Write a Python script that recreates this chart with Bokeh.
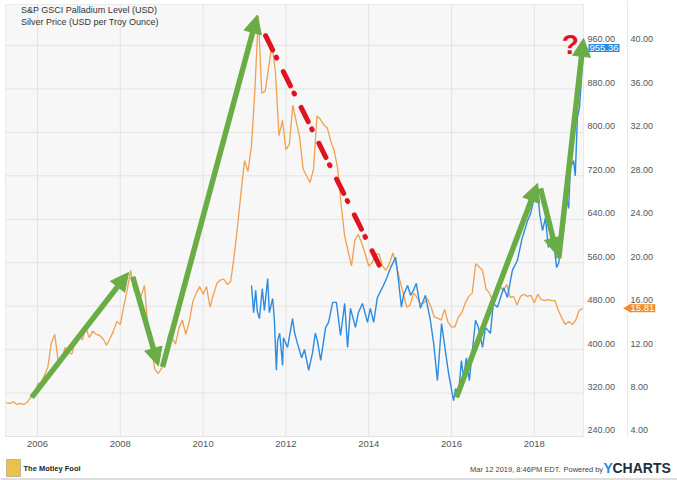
from math import pi
from bokeh.plotting import figure
from bokeh.models import (Range1d, LinearAxis, FixedTicker, NumeralTickFormatter, Legend,
                          LegendItem, Arrow, NormalHead, Label, BoxAnnotation)
from bokeh.embed import file_html
from bokeh.resources import INLINE

# ---- data -------------------------------------------------------------
# Silver, monthly average price (USD / troy oz), Mar 2005 .. Feb 2019
silver_start_year = 2005
silver_start_month = 3
silver_price = [
    7.10, 7.05, 7.20, 6.95, 7.05, 6.95, 7.15, 7.60, 7.70, 8.80,
    9.00, 9.60, 10.40, 12.60, 13.40, 10.90, 11.10, 12.20, 11.70, 11.60, 12.90, 13.30,
    12.90, 14.00, 13.10, 13.70, 13.40, 13.30, 13.00, 12.40, 13.00, 13.70, 14.60, 14.30,
    16.00, 17.50, 19.30, 17.40, 17.00, 16.90, 17.90, 14.00, 12.20, 10.20, 9.80, 10.30,
    11.30, 13.40, 13.10, 12.50, 14.00, 14.70, 13.40, 14.60, 16.40, 17.20, 17.80, 17.10,
    17.80, 15.90, 17.10, 18.10, 18.40, 18.50, 18.00, 18.30, 20.60, 23.40, 26.50, 29.40,
    28.40, 30.70, 35.80, 42.70, 35.60, 35.80, 38.00, 40.10, 37.40, 31.70, 33.10, 30.40,
    30.90, 34.50, 33.00, 31.50, 28.60, 28.00, 27.40, 28.60, 33.50, 33.20, 32.70, 32.40,
    31.20, 30.30, 28.70, 25.40, 22.50, 21.10, 19.70, 22.10, 22.60, 21.80, 20.80, 19.70,
    20.00, 20.80, 20.80, 19.70, 19.30, 19.90, 20.90, 19.80, 18.40, 17.20, 15.90, 16.10,
    17.20, 16.80, 16.20, 16.30, 16.70, 16.00, 15.00, 14.90, 14.70, 15.70, 14.50, 14.10,
    14.10, 15.00, 15.40, 16.30, 16.90, 17.20, 19.90, 19.60, 19.30, 17.60, 17.20, 16.40,
    16.90, 17.90, 17.40, 18.00, 16.80, 16.90, 16.10, 16.90, 17.10, 16.90, 17.00, 16.30,
    17.10, 16.60, 16.50, 16.60, 16.50, 16.50, 15.60, 14.90, 14.30, 14.60, 14.30, 14.70,
    15.60, 15.81,
]

# S&P GSCI Palladium index level (USD), decimal-year dates
palladium_date = [
    2011.17, 2011.22, 2011.27, 2011.31, 2011.36, 2011.43, 2011.48, 2011.56, 2011.60, 2011.68,
    2011.72, 2011.77, 2011.80, 2011.85, 2011.92, 2011.94, 2012.04, 2012.16, 2012.21, 2012.28,
    2012.38, 2012.45, 2012.55, 2012.64, 2012.71, 2012.76, 2012.84, 2012.96, 2013.03, 2013.13,
    2013.22, 2013.32, 2013.42, 2013.49, 2013.56, 2013.68, 2013.75, 2013.85, 2013.97, 2014.04,
    2014.12, 2014.21, 2014.33, 2014.43, 2014.53, 2014.65, 2014.72, 2014.79, 2014.84, 2014.94,
    2015.01, 2015.08, 2015.15, 2015.25, 2015.37, 2015.49, 2015.57, 2015.66, 2015.76, 2015.86,
    2015.93, 2016.05, 2016.10, 2016.17, 2016.24, 2016.29, 2016.36, 2016.43, 2016.58, 2016.65,
    2016.75, 2016.82, 2016.94, 2017.01, 2017.11, 2017.26, 2017.35, 2017.47, 2017.59, 2017.71,
    2017.84, 2017.91, 2017.98, 2018.08, 2018.13, 2018.20, 2018.27, 2018.34, 2018.44, 2018.54,
    2018.59, 2018.63, 2018.71, 2018.78, 2018.83, 2018.87, 2018.95, 2018.99, 2019.04, 2019.09,
    2019.14, 2019.19,
]
palladium_level = [
    518, 468, 509, 470, 457, 512, 472, 531, 468, 494,
    457, 362, 417, 430, 371, 422, 404, 457, 431, 411,
    385, 400, 362, 393, 430, 417, 380, 441, 450, 487,
    487, 426, 485, 404, 476, 441, 468, 485, 450, 476,
    450, 496, 514, 531, 551, 570, 527, 478, 500, 518,
    500, 509, 522, 476, 500, 454, 411, 343, 448, 393,
    356, 306, 328, 319, 380, 349, 385, 343, 454, 441,
    404, 441, 430, 485, 478, 514, 496, 546, 564, 606,
    638, 650, 675, 693, 650, 619, 643, 588, 614, 551,
    560, 582, 620, 680, 660, 735, 748, 720, 827, 845,
    900, 955.36,
]

year_ticks = [2006, 2008, 2010, 2012, 2014, 2016, 2018]
palladium_ticks = [240, 320, 400, 480, 560, 640, 720, 800, 880, 960]
silver_ticks = [4, 8, 12, 16, 20, 24, 28, 32, 36, 40]

# Trend arrows drawn over the chart: (x0, y0, x1, y1)
silver_arrows = [
    (2005.86, 7.6, 2008.20, 19.1),
    (2008.30, 18.7, 2008.92, 10.5),
    (2009.02, 10.4, 2011.31, 42.8),
]
silver_slide = (2011.51, 40.9, 2014.29, 19.5)
palladium_arrows = [
    (2016.12, 312, 2018.08, 706),
    (2018.15, 697, 2018.56, 573),
    (2018.59, 568, 2019.19, 973),
]

# month-end dates for the silver series
silver_date = [silver_start_year + (silver_start_month + i) / 12.0
               for i in range(len(silver_price))]

# ---- layout constants ---------------------------------------------------
FONT = "Liberation Sans"
BLUE = "#2b8be0"
ORANGE = "#f0a04e"
GREEN = "#6aad47"
RED = "#e0141e"

# the frame spans the whole canvas; the data area is a box inside it
X0, X1 = 2005.106, 2021.459          # canvas left / right
XL, XR = 2005.227, 2019.188          # data area left / right
Y0, Y1 = 158.98, 1042.8              # canvas bottom / top (palladium units)
YB, YT = 240.0, 1035.4               # data area bottom / top


def to_silver(v):
    return 4 + (v - 240) / 20.0


LABEL_LIFT = 11.05                   # tick labels sit ~6px above their gridlines
X_SEP = 2020.251                     # divider between the two value scales

p = figure(width=677, height=480,
           x_range=Range1d(X0, X1), y_range=Range1d(Y0, Y1),
           x_axis_location=None, y_axis_location=None,
           output_backend="svg", toolbar_location=None, min_border=0,
           background_fill_color="white", border_fill_color="white",
           outline_line_color=None)
p.grid.visible = False
p.extra_y_ranges = {
    "silver": Range1d(to_silver(Y0), to_silver(Y1)),
    "pd_labels": Range1d(Y0 - LABEL_LIFT, Y1 - LABEL_LIFT),
    "ag_labels": Range1d(to_silver(Y0) - LABEL_LIFT / 20, to_silver(Y1) - LABEL_LIFT / 20),
}

# data area background and border
p.add_layout(BoxAnnotation(left=XL, right=XR, bottom=YB, top=YT,
                           fill_color="#f7f7f7", fill_alpha=1,
                           line_color="#c4c4c4", line_width=1, level="underlay"))

# gridlines
p.segment(x0=XL, x1=XR, y0=palladium_ticks, y1=palladium_ticks,
          line_color="#e3e3e3", line_width=1)
p.segment(x0=year_ticks, x1=year_ticks, y0=YB, y1=YT,
          line_color="#e3e3e3", line_width=1)
p.segment(x0=[X_SEP], x1=[X_SEP], y0=[YB], y1=[Y1], line_color="#e9e9e9", line_width=1)

# axes
xa = LinearAxis(ticker=FixedTicker(ticks=year_ticks), formatter=NumeralTickFormatter(format="0"),
                fixed_location=YB)
p.add_layout(xa, "below")
ya = LinearAxis(y_range_name="pd_labels", ticker=FixedTicker(ticks=palladium_ticks),
                formatter=NumeralTickFormatter(format="0.00"), fixed_location=XR)
p.add_layout(ya, "right")
sa = LinearAxis(y_range_name="ag_labels", ticker=FixedTicker(ticks=silver_ticks),
                formatter=NumeralTickFormatter(format="0.00"), fixed_location=X_SEP)
p.add_layout(sa, "right")

for ax in (xa, ya, sa):
    ax.axis_line_color = None
    ax.major_tick_line_color = None
    ax.minor_tick_line_color = None
    ax.major_tick_out = 0
    ax.major_tick_in = 0
    ax.minor_tick_out = 0
    ax.major_label_text_font = FONT
    ax.major_label_text_color = "#555555"
xa.major_label_text_font_size = "9.5px"
ya.major_label_text_font_size = "9px"
sa.major_label_text_font_size = "9px"
xa.major_label_standoff = 5
ya.major_label_standoff = 4
sa.major_label_standoff = 3

# series
p.line(silver_date, silver_price, y_range_name="silver", line_color=ORANGE, line_width=1.3)
p.line(palladium_date, palladium_level, line_color=BLUE, line_width=1.4)

# legend with square swatches
sq_pd = p.scatter(x=[], y=[], marker="square", size=7, fill_color="#1e88e5", line_color=None)
sq_ag = p.scatter(x=[], y=[], marker="square", size=7, fill_color="#f28a1e", line_color=None)
legend = Legend(items=[LegendItem(label="S&P GSCI Palladium Level (USD)", renderers=[sq_pd]),
                       LegendItem(label="Silver Price (USD per Troy Ounce)", renderers=[sq_ag])],
                location=(9, 452), margin=0, padding=0, spacing=0,
                glyph_width=8, glyph_height=12, label_height=12, label_standoff=4,
                label_text_font=FONT, label_text_font_size="9px", label_text_color="#333333",
                background_fill_alpha=0, border_line_color=None)
p.add_layout(legend)

# trend arrows
for (x0, y0, x1, y1) in silver_arrows:
    p.add_layout(Arrow(x_start=x0, y_start=y0, x_end=x1, y_end=y1, y_range_name="silver",
                       line_color=GREEN, line_width=5.5,
                       end=NormalHead(size=18, fill_color=GREEN, line_color=GREEN)))
for (x0, y0, x1, y1) in palladium_arrows:
    p.add_layout(Arrow(x_start=x0, y_start=y0, x_end=x1, y_end=y1,
                       line_color=GREEN, line_width=5.5,
                       end=NormalHead(size=18, fill_color=GREEN, line_color=GREEN)))
x0, y0, x1, y1 = silver_slide
p.add_layout(Arrow(x_start=x0, y_start=y0, x_end=x1, y_end=y1, y_range_name="silver",
                   line_color=RED, line_width=5, line_dash="16 8 1 15", line_cap="round",
                   end=None))

p.add_layout(Label(x=2018.87, y=962, text="?", text_font=FONT, text_font_size="28px",
                   text_font_style="bold", text_color=RED, text_align="center",
                   text_baseline="middle"))

# last-value flags on the value scales
p.add_layout(Label(x=588, x_units="screen", y=palladium_level[-1], text="955.36",
                   text_font=FONT, text_font_size="9.5px", text_color="white",
                   text_baseline="middle", background_fill_color="#2a8ae0", padding=1))
p.scatter(x=[X_SEP + 0.02], y=[silver_price[-1]], y_range_name="silver", marker="triangle",
          angle=pi / 2, size=9, fill_color="#f28c28", line_color=None)
p.add_layout(Label(x=629, x_units="screen", y=silver_price[-1], y_range_name="silver",
                   text="15.81", text_font=FONT, text_font_size="9.5px", text_color="white",
                   text_baseline="middle", background_fill_color="#f28c28", padding=1))

# footer
p.add_layout(BoxAnnotation(left=0, right=677, top=2, bottom=1,
                           left_units="screen", right_units="screen",
                           top_units="screen", bottom_units="screen",
                           fill_color="#bdbdbd", fill_alpha=1, line_color=None))
p.add_layout(BoxAnnotation(left=6, right=20, top=21, bottom=4,
                           left_units="screen", right_units="screen",
                           top_units="screen", bottom_units="screen",
                           fill_color="#e8c24a", fill_alpha=1, line_color="#555555", line_width=1))
p.add_layout(Label(x=23, y=12, x_units="screen", y_units="screen", text="The Motley Fool",
                   text_font=FONT, text_font_size="7.5px", text_font_style="bold",
                   text_color="#222222", text_baseline="middle"))
p.add_layout(Label(x=560, y=11, x_units="screen", y_units="screen",
                   text="Mar 12 2019, 8:46PM EDT.", text_font=FONT, text_font_size="7.5px",
                   text_color="#444444", text_align="right", text_baseline="middle"))
p.add_layout(Label(x=563, y=11, x_units="screen", y_units="screen", text="Powered by",
                   text_font=FONT, text_font_size="7.5px", text_color="#444444",
                   text_baseline="middle"))
p.add_layout(Label(x=603, y=13, x_units="screen", y_units="screen", text="Y",
                   text_font=FONT, text_font_size="14px", text_font_style="bold",
                   text_color="#2a8ae0", text_baseline="middle"))
p.add_layout(Label(x=612, y=13, x_units="screen", y_units="screen", text="CHARTS",
                   text_font=FONT, text_font_size="14px", text_font_style="bold",
                   text_color="#1d2d3e", text_baseline="middle"))

open("out.html", "w").write(file_html(p, INLINE))
